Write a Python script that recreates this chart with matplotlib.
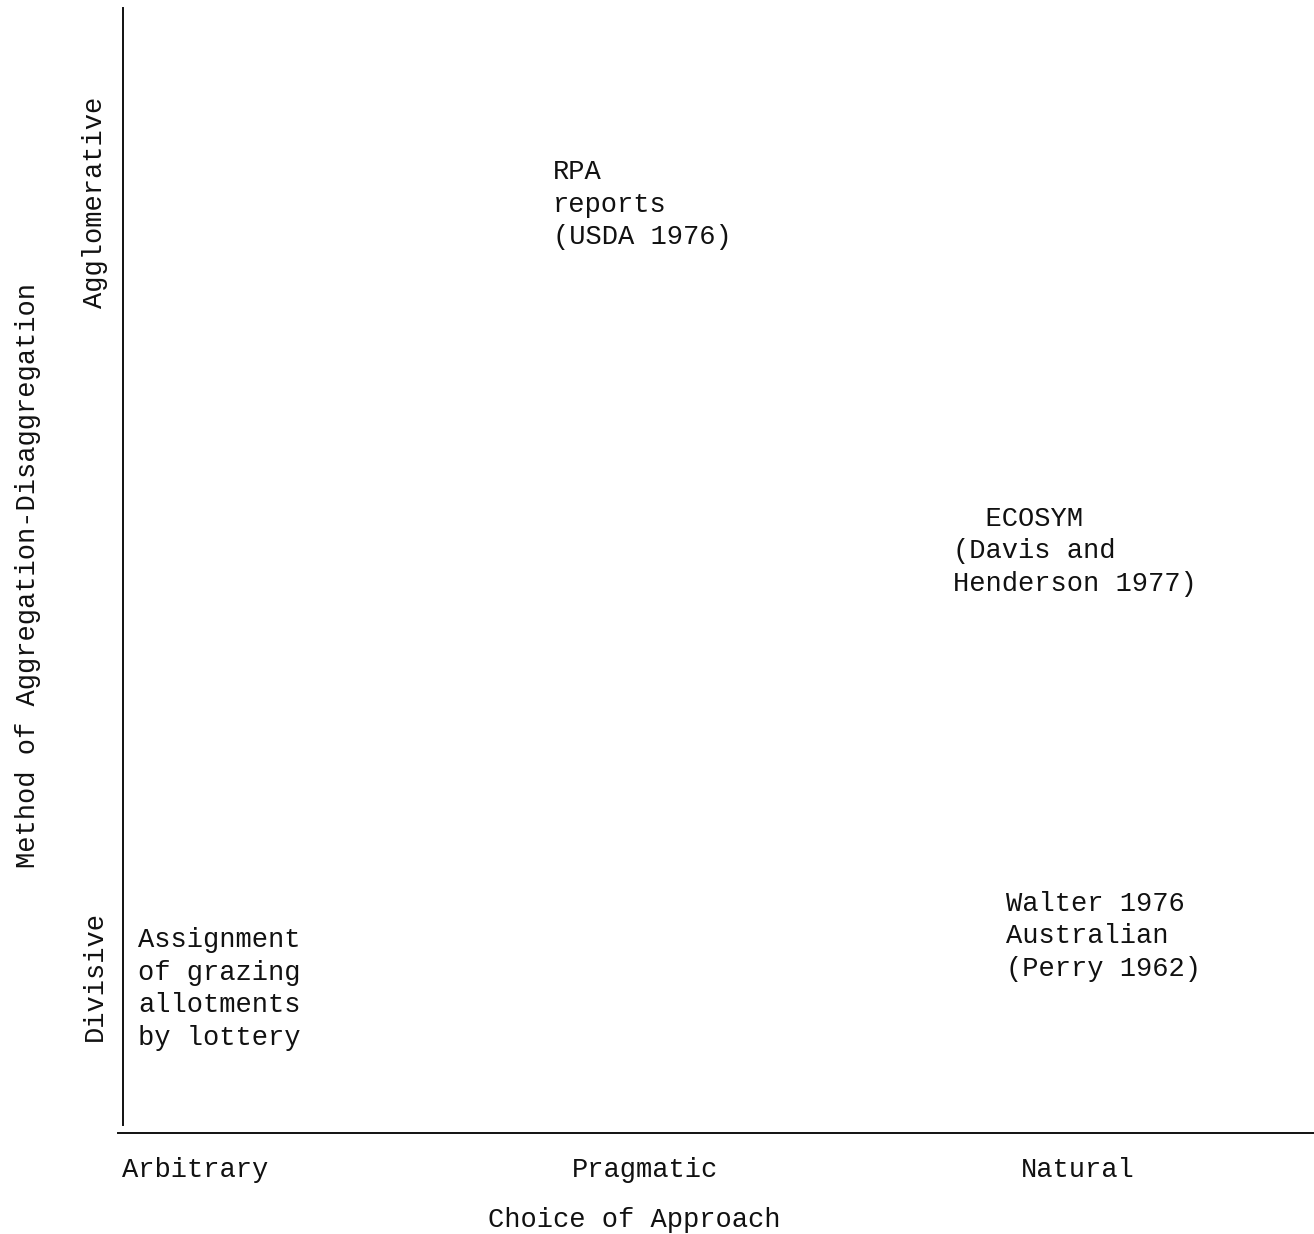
import matplotlib
matplotlib.use("Agg")
import matplotlib.pyplot as plt

# ---- data ----
x_categories = ["Arbitrary", "Pragmatic", "Natural"]
x_cat_pos = [0.0605, 0.438, 0.802]
y_categories = ["Divisive", "Agglomerative"]
y_cat_pos = [0.1396, 0.8276]
x_title = "Choice of Approach"
y_title = "Method of Aggregation-Disaggregation"

item_labels = [
    "RPA\nreports\n(USDA 1976)",
    "  ECOSYM\n(Davis and\nHenderson 1977)",
    "Walter 1976\nAustralian\n(Perry 1962)",
    "Assignment\nof grazing\nallotments\nby lottery",
]
item_x = [0.361, 0.697, 0.741, 0.0126]
item_y = [0.790, 0.482, 0.1396, 0.0782]

FONT = "Liberation Mono"
FS = 19.5
INK = "#111111"

fig = plt.figure(figsize=(13.14, 12.34), dpi=100)
W, H = 1314, 1234
ax = fig.add_axes([118 / W, 1 - 1133 / H, 1 - 118 / W, (1133 - 8) / H])
ax.set_xlim(-0.0042, 1.0)
ax.set_ylim(0, 1)

for s in ["top", "right"]:
    ax.spines[s].set_visible(False)
ax.spines["left"].set_position(("data", 0))
ax.spines["left"].set_bounds(0.0071, 1.0)
for s in ["left", "bottom"]:
    ax.spines[s].set_linewidth(1.4)
    ax.spines[s].set_color(INK)

ax.set_xticks(x_cat_pos)
ax.set_xticklabels(x_categories, fontfamily=FONT, fontsize=FS, color=INK)
ax.set_yticks(y_cat_pos)
ax.set_yticklabels(y_categories, fontfamily=FONT, fontsize=FS, color=INK,
                   rotation=90, va="center")
ax.tick_params(axis="x", length=0, pad=17.5)
ax.tick_params(axis="y", length=0, pad=11)

ax.set_xlabel(x_title, fontfamily=FONT, fontsize=FS, color=INK)
ax.xaxis.set_label_coords(0.432, -0.0657)
ax.set_ylabel(y_title, fontfamily=FONT, fontsize=FS, color=INK)
ax.yaxis.set_label_coords(-0.064, 0.496)

for lab, x, y in zip(item_labels, item_x, item_y):
    ax.text(x, y, lab, fontfamily=FONT, fontsize=FS, color=INK,
            ha="left", va="baseline", linespacing=1.33)

fig.savefig("out.png", dpi=100, facecolor="white")
